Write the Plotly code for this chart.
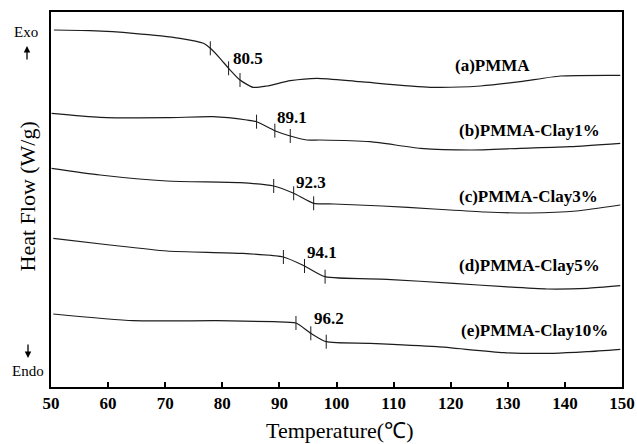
import numpy as np
import plotly.graph_objects as go

# ---------------- data (heat flow in arbitrary offset units) ----------------
samples = ["(a)PMMA", "(b)PMMA-Clay1%", "(c)PMMA-Clay3%", "(d)PMMA-Clay5%", "(e)PMMA-Clay10%"]
tg_values = [80.5, 89.1, 92.3, 94.1, 96.2]

temp_a = [50.5, 56.8, 64.4, 72.6, 76.7, 77.9, 79.6, 81.1, 83.1, 85.4, 87.8, 91.9, 96.6, 104.1, 116.4, 125.2, 132.2, 139.2, 149.7]
flow_a = [357, 356.3, 353.7, 348.7, 343.7, 338.7, 328.7, 318.7, 307, 299.7, 301, 306.3, 308.7, 305.3, 299.7, 301, 305.3, 311, 311.7]

temp_b = [50.1, 58.6, 70.3, 78.4, 84.3, 86.0, 89.2, 91.9, 94.8, 97.1, 105.9, 114.7, 123.4, 132.2, 140.9, 149.7]
flow_b = [273.7, 269.7, 269.3, 270.3, 267, 265.3, 256.3, 251, 247, 247, 245.3, 238.7, 237, 238.7, 240.3, 243.7]

temp_c = [50.1, 58.6, 70.3, 83.1, 89.0, 92.5, 96.0, 99.5, 108.0, 117.0, 126.0, 134.0, 142.0, 149.7]
flow_c = [218.7, 212, 206, 204.3, 201, 193.7, 183.7, 183, 181, 178, 175, 174, 176, 182]

temp_d = [50.4, 60.3, 70.3, 83.1, 90.7, 94.4, 98.0, 108.8, 120.5, 129.3, 136.9, 143.9, 149.7]
flow_d = [148.7, 142, 136, 133.7, 130, 121, 110.3, 107.7, 103.7, 100.3, 98, 98.7, 101.3]

temp_e = [50.4, 64.4, 79.0, 89.0, 92.9, 95.5, 98.2, 105.9, 117.6, 129.3, 138.0, 143.9, 149.7]
flow_e = [73, 66.3, 66.3, 65.3, 64, 53.7, 45.3, 43.7, 40.3, 34.3, 33.7, 35.3, 37.7]

# onset / midpoint / end temperatures marked on each curve
marks_a = [77.9, 81.1, 83.1]
marks_b = [86.0, 89.2, 91.9]
marks_c = [89.0, 92.5, 96.0]
marks_d = [90.7, 94.4, 98.0]
marks_e = [92.9, 95.5, 98.2]

x_ticks = [50, 60, 70, 80, 90, 100, 110, 120, 130, 140, 150]

curves = [(temp_a, flow_a, marks_a), (temp_b, flow_b, marks_b), (temp_c, flow_c, marks_c),
          (temp_d, flow_d, marks_d), (temp_e, flow_e, marks_e)]

SERIF = "Liberation Serif, Times New Roman, serif"
LINE = "#1c1c1c"

fig = go.Figure()
for (t, f, m) in curves:
    fig.add_trace(go.Scatter(x=t, y=f, mode="lines", line=dict(color=LINE, width=1.2, shape="spline", smoothing=0.6),
                             showlegend=False, hoverinfo="skip"))
    fig.add_trace(go.Scatter(x=m, y=np.interp(m, t, f), mode="markers",
                             marker=dict(symbol="line-ns", size=10, line=dict(color=LINE, width=1)),
                             showlegend=False, hoverinfo="skip"))

# sample labels
label_pos = [(120.4, 322), (121.1, 257), (121.1, 191), (121.1, 122), (121.4, 57)]
for name, (lx, ly) in zip(samples, label_pos):
    fig.add_annotation(x=lx, y=ly, text=name, showarrow=False, xanchor="left", yanchor="middle",
                       font=dict(family=SERIF, size=17, color="black", weight="bold"))

# Tg value labels
tg_pos = [(84.5, 329), (92.2, 270), (95.6, 205), (97.5, 134.7), (98.6, 68.7)]
for v, (lx, ly) in zip(tg_values, tg_pos):
    fig.add_annotation(x=lx, y=ly, text=f"{v:.1f}", showarrow=False, xanchor="center", yanchor="middle",
                       font=dict(family=SERIF, size=17, color="black", weight="bold"))

# Exo / Endo markers and axis titles (paper coordinates)
def px(xp):
    return (xp - 51) / 571.0

def py(yp):
    return (387 - yp) / 375.0

def text_ann(xp, yp, text, size, angle=0):
    fig.add_annotation(xref="paper", yref="paper", x=px(xp), y=py(yp), text=text, showarrow=False,
                       xanchor="center", yanchor="middle", textangle=angle,
                       font=dict(family=SERIF, size=size, color="black"))

text_ann(25.5, 32, "Exo", 15)
text_ann(27.5, 371, "Endo", 15)
text_ann(27.5, 197, "Heat Flow (W/g)", 22, -90)
text_ann(340, 430, "Temperature(℃)", 22)

fig.add_annotation(xref="paper", yref="paper", x=px(27), y=py(46), ax=0, ay=15, text="", showarrow=True,
                   arrowhead=2, arrowsize=1, arrowwidth=1.3, arrowcolor="black")
fig.add_annotation(xref="paper", yref="paper", x=px(28), y=py(358), ax=0, ay=-15, text="", showarrow=True,
                   arrowhead=2, arrowsize=1, arrowwidth=1.3, arrowcolor="black")

fig.update_layout(
    width=637, height=444,
    margin=dict(l=51, r=15, t=12, b=57, autoexpand=False),
    paper_bgcolor="white", plot_bgcolor="white",
    xaxis=dict(range=[50, 150], tickvals=x_ticks, ticks="inside", ticklen=5, tickwidth=1.5, tickcolor="black",
               showline=True, linecolor="black", linewidth=1.5, mirror=True, showgrid=False, zeroline=False,
               automargin=False,
               tickfont=dict(family=SERIF, size=17, color="black", weight="bold")),
    yaxis=dict(range=[0, 375], showticklabels=False, ticks="", showline=True, linecolor="black", linewidth=1.5,
               mirror=True, showgrid=False, zeroline=False, automargin=False),
)

fig.write_html("out.html")
